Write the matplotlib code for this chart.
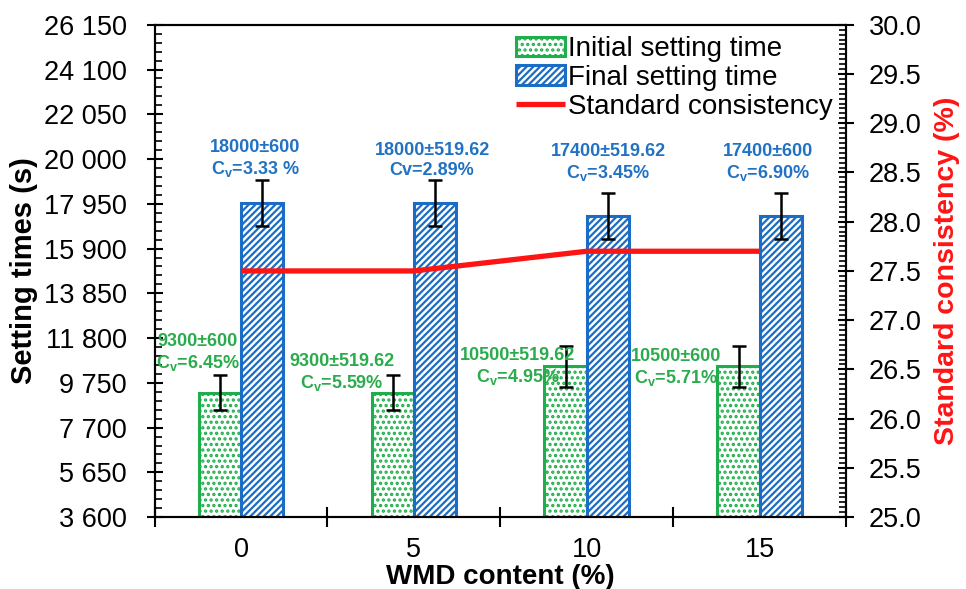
import matplotlib
matplotlib.use("Agg")
import matplotlib.pyplot as plt
import numpy as np
from matplotlib.ticker import FixedLocator, MultipleLocator, FuncFormatter

plt.rcParams["font.family"] = ["Liberation Sans", "DejaVu Sans"]
plt.rcParams["mathtext.fontset"] = "custom"
plt.rcParams["mathtext.rm"] = "Liberation Sans"
plt.rcParams["mathtext.bf"] = "Liberation Sans:bold"
plt.rcParams["mathtext.default"] = "bf"
plt.rcParams["hatch.linewidth"] = 1.6

# ---------------------------------------------------------------------------
# Data
# ---------------------------------------------------------------------------
wmd_content = ["0", "5", "10", "15"]
initial_time = [9300, 9300, 10500, 10500]
initial_err = [800, 800, 920, 920]        # drawn error bar half-lengths
final_time = [18000, 18000, 17400, 17400]
final_err = [1050, 1050, 1040, 1040]
consistency = [27.5, 27.5, 27.7, 27.7]

initial_text = [
    "9300±600\nC$_v$=6.45%",
    "9300±519.62\nC$_v$=5.59%",
    "10500±519.62\nC$_v$=4.95%",
    "10500±600\nC$_v$=5.71%",
]
final_text = [
    "18000±600\nC$_v$=3.33 %",
    "18000±519.62\nCv=2.89%",
    "17400±519.62\nC$_v$=3.45%",
    "17400±600\nC$_v$=6.90%",
]

GREEN = "#1fae4b"
BLUE = "#1b6cc4"
RED = "#ff1414"
TXT_GREEN = "#2aab4c"
TXT_BLUE = "#2272c3"

# label offsets in pixels relative to top of error bar
INIT_OFF = [(-22, 2), (-51, -18), (-48, -41), (-63, -42)]
FINAL_OFF = [(-7, 1), (-3, 1), (0, 10), (-13, 10)]

fig = plt.figure(figsize=(9.66, 5.89), dpi=100)
ax = fig.add_axes([0.160, 0.122, 0.716, 0.836])
ax2 = ax.twinx()

x = np.arange(len(wmd_content))
w = 0.245

b1 = ax.bar(x - w / 2, initial_time, w, color="white", edgecolor=GREEN,
            hatch="...", linewidth=2.2, label="Initial setting time", zorder=2)
b2 = ax.bar(x + w / 2, final_time, w, color="white", edgecolor=BLUE,
            hatch="/////", linewidth=2.2, label="Final setting time", zorder=2)
ax.errorbar(x - w / 2, initial_time, yerr=initial_err, fmt="none",
            ecolor="black", elinewidth=1.8, capsize=5, capthick=1.8, zorder=3)
ax.errorbar(x + w / 2, final_time, yerr=final_err, fmt="none",
            ecolor="black", elinewidth=1.8, capsize=5, capthick=1.8, zorder=3)

for i in range(len(x)):
    dx, dy = INIT_OFF[i]
    ax.annotate(initial_text[i], xy=(x[i] - w / 2, initial_time[i] + initial_err[i]),
                xytext=(dx, dy), textcoords="offset pixels", ha="center", va="bottom",
                fontsize=13, fontweight="bold", color=TXT_GREEN, zorder=4)
    dx, dy = FINAL_OFF[i]
    ax.annotate(final_text[i], xy=(x[i] + w / 2, final_time[i] + final_err[i]),
                xytext=(dx, dy), textcoords="offset pixels", ha="center", va="bottom",
                fontsize=13, fontweight="bold", color=TXT_BLUE, zorder=4)

ln, = ax2.plot(x, consistency, color=RED, linewidth=3.8, label="Standard consistency",
               solid_capstyle="butt")

# axes limits and ticks
ax.set_xlim(-0.5, len(x) - 0.5)
ax.set_ylim(3600, 26150)
ax.yaxis.set_major_locator(FixedLocator(np.arange(3600, 26151, 2050)))
ax.yaxis.set_minor_locator(FixedLocator(np.arange(3600, 26151, 410)))
ax.yaxis.set_major_formatter(FuncFormatter(lambda v, p: f"{int(round(v)):,}".replace(",", " ")))
ax.xaxis.set_major_locator(FixedLocator(np.arange(-0.5, len(x), 1.0)))
ax.xaxis.set_major_formatter(FuncFormatter(lambda v, p: ""))
ax.xaxis.set_minor_locator(FixedLocator(x))
ax.set_xticklabels(wmd_content, minor=True)

ax2.set_ylim(25, 30)
ax2.yaxis.set_major_locator(MultipleLocator(0.5))
ax2.yaxis.set_minor_locator(MultipleLocator(0.05))
ax2.yaxis.set_major_formatter(FuncFormatter(lambda v, p: f"{v:.1f}"))

ax.tick_params(axis="y", which="major", direction="inout", length=12, width=1.5,
               labelsize=19.5, pad=14)
ax.tick_params(axis="y", which="minor", direction="in", length=5, width=1.2)
ax.tick_params(axis="x", which="major", direction="inout", length=14, width=1.5)
ax.tick_params(axis="x", which="minor", length=0, labelsize=19.5, pad=14)
ax2.tick_params(axis="y", which="major", direction="inout", length=12, width=1.5,
                labelsize=19.5, pad=10)
ax2.tick_params(axis="y", which="minor", direction="in", length=5, width=1.2)

for a in (ax, ax2):
    for s in a.spines.values():
        s.set_linewidth(1.5)

ax.set_ylabel("Setting times (s)", fontsize=21, fontweight="bold", labelpad=4)
ax.set_xlabel("WMD content (%)", fontsize=20, fontweight="bold", labelpad=1)
ax2.set_ylabel("Standard consistency (%)", fontsize=20.5, fontweight="bold",
               color=RED, labelpad=9)

ax2.legend([b1, b2, ln], ["Initial setting time", "Final setting time", "Standard consistency"],
           loc="upper right", bbox_to_anchor=(1.0, 1.005), frameon=False,
           fontsize=20, handlelength=1.75, handletextpad=0.1, labelspacing=0.1,
           borderaxespad=0.1)

fig.savefig("out.png", dpi=100)
